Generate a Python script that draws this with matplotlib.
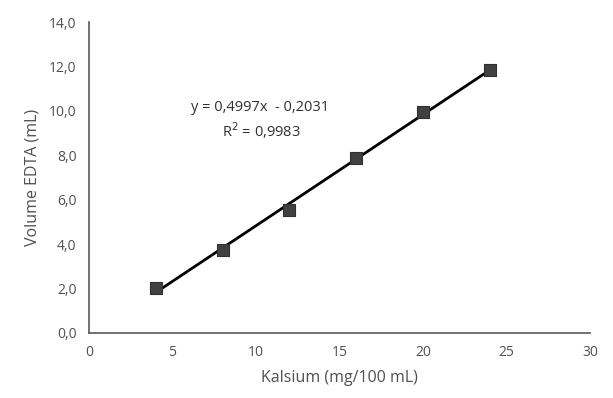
import numpy as np
import matplotlib
matplotlib.use('Agg')
import matplotlib.pyplot as plt

# Calibration data: calcium vs EDTA volume
kalsium = [4, 8, 12, 16, 20, 24]
volume_edta = [2.03, 3.74, 5.54, 7.88, 9.95, 11.85]

x_ticks = [0, 5, 10, 15, 20, 25, 30]
y_ticks = [0, 2, 4, 6, 8, 10, 12, 14]

plt.rcParams['font.family'] = ['Open Sans', 'DejaVu Sans']

fig = plt.figure(figsize=(6.13, 3.98), dpi=100)
ax = fig.add_axes([89 / 613, 1 - 333 / 398, (590 - 89) / 613, (333 - 22) / 398])

# Linear trendline
slope, intercept = np.polyfit(kalsium, volume_edta, 1)
xs = np.array([min(kalsium), max(kalsium)])
ax.plot(xs, slope * xs + intercept, color='black', lw=2, zorder=2)

ax.scatter(kalsium, volume_edta, marker='s', s=72, color='#404040',
           edgecolors='#303030', linewidths=0.8, zorder=3)

ax.set_xlim(0, 30)
ax.set_ylim(0, 14)
ax.set_xticks(x_ticks)
ax.set_yticks(y_ticks)
ax.set_yticklabels([f"{v:.1f}".replace('.', ',') for v in y_ticks])
ax.tick_params(length=0, labelsize=10, colors='#505050', pad=9)

for side in ['top', 'right']:
    ax.spines[side].set_visible(False)
for side in ['left', 'bottom']:
    ax.spines[side].set_color('#595959')
    ax.spines[side].set_linewidth(1.2)

ax.set_xlabel('Kalsium (mg/100 mL)', fontsize=11.5, color='#505050', labelpad=7)
ax.set_ylabel('Volume EDTA (mL)', fontsize=11.5, color='#505050', labelpad=6)

ax.text(10.25, 10.15, 'y = 0,4997x  - 0,2031', fontsize=10.5, color='#303030', ha='center', va='center')
ax.text(10.35, 9.1, 'R$^2$ = 0,9983', fontsize=10.5, color='#303030', ha='center', va='center')

fig.savefig('out.png', dpi=100)
